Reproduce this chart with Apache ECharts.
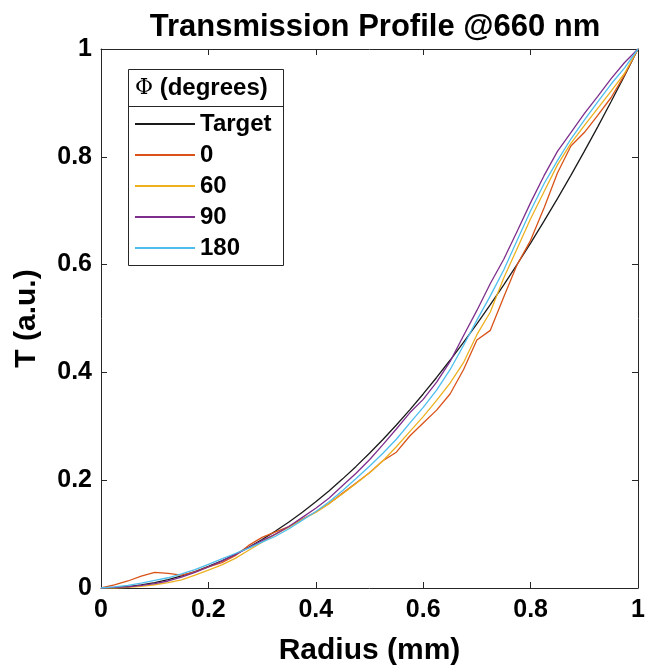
<!DOCTYPE html>
<html>
<head>
<meta charset="utf-8">
<script src="https://cdn.jsdelivr.net/npm/echarts@6/dist/echarts.min.js"></script>
<style>html,body{margin:0;padding:0;background:#fff;}#c{width:645px;height:668px;}</style>
</head>
<body>
<div id="c"></div>
<script>
const radius = [0,0.025,0.05,0.075,0.1,0.125,0.15,0.175,0.2,0.225,0.25,0.275,0.3,0.325,0.35,0.375,0.4,0.425,0.45,0.475,0.5,0.525,0.55,0.575,0.6,0.625,0.65,0.675,0.7,0.725,0.75,0.775,0.8,0.825,0.85,0.875,0.9,0.925,0.95,0.975,1];
const target = [0,0.0006,0.0025,0.0056,0.01,0.0156,0.0225,0.0306,0.04,0.0506,0.0625,0.0756,0.09,0.1056,0.1225,0.1406,0.16,0.1806,0.2025,0.2256,0.25,0.2756,0.3025,0.3306,0.36,0.3906,0.4225,0.4556,0.49,0.5256,0.5625,0.6006,0.64,0.6806,0.7225,0.7656,0.81,0.8556,0.9025,0.9506,1];
const phi0 = [0,0.006,0.013,0.022,0.029,0.027,0.024,0.030,0.039,0.047,0.060,0.079,0.094,0.104,0.114,0.128,0.141,0.157,0.176,0.195,0.214,0.236,0.252,0.282,0.306,0.330,0.360,0.405,0.460,0.478,0.540,0.600,0.645,0.705,0.770,0.820,0.845,0.877,0.910,0.952,1];
const phi60 = [0,0.000,0.001,0.003,0.006,0.010,0.015,0.024,0.033,0.043,0.055,0.070,0.085,0.100,0.113,0.127,0.140,0.157,0.175,0.194,0.214,0.236,0.262,0.290,0.318,0.348,0.380,0.418,0.470,0.512,0.575,0.630,0.685,0.735,0.785,0.825,0.858,0.890,0.922,0.955,1];
const phi90 = [0,0.001,0.002,0.005,0.008,0.013,0.020,0.029,0.039,0.050,0.062,0.075,0.088,0.100,0.114,0.131,0.148,0.167,0.190,0.213,0.238,0.266,0.295,0.325,0.350,0.382,0.420,0.468,0.515,0.565,0.610,0.662,0.715,0.765,0.810,0.845,0.880,0.912,0.945,0.975,1];
const phi180 = [0,0.002,0.005,0.009,0.014,0.019,0.026,0.034,0.044,0.054,0.064,0.074,0.085,0.096,0.110,0.126,0.142,0.160,0.181,0.203,0.226,0.250,0.276,0.306,0.335,0.367,0.405,0.450,0.497,0.542,0.590,0.645,0.700,0.750,0.793,0.833,0.868,0.902,0.935,0.965,1];
const seriesNames = ['Target','0','60','90','180'];
const seriesColors = ['#1a1a1a','#D95319','#EDB120','#7E2F8E','#4DBEEE'];
const seriesValues = [target, phi0, phi60, phi90, phi180];
const axisTicks = [0,0.2,0.4,0.6,0.8,1];

const FONT = '"Liberation Sans", Arial, Helvetica, sans-serif';
const AX = '#262626';
const chart = echarts.init(document.getElementById('c'), null, {renderer:'canvas'});

function xAx(pos, show){
  return {type:'value', position:pos, min:0, max:1, interval:0.2,
    axisLine:{show:true, onZero:false, lineStyle:{color:AX, width:1}},
    axisTick:{show:true, inside:true, length:6, lineStyle:{color:AX}},
    axisLabel:{show:show, color:'#000', fontFamily:FONT, fontWeight:'bold', fontSize:25, margin:10},
    splitLine:{show:false},
    name: show ? 'Radius (mm)' : '', nameLocation:'middle', nameGap:48,
    nameTextStyle:{color:'#000', fontFamily:FONT, fontWeight:'bold', fontSize:30}};
}
function yAx(pos, show){
  return {type:'value', position:pos, min:0, max:1, interval:0.2,
    axisLine:{show:true, onZero:false, lineStyle:{color:AX, width:1}},
    axisTick:{show:true, inside:true, length:6, lineStyle:{color:AX}},
    axisLabel:{show:show, color:'#000', fontFamily:FONT, fontWeight:'bold', fontSize:25, margin:9},
    splitLine:{show:false},
    name: show ? 'T (a.u.)' : '', nameLocation:'middle', nameGap:59,
    nameTextStyle:{color:'#000', fontFamily:FONT, fontWeight:'bold', fontSize:30}};
}

const series = seriesNames.map((n,i)=>({
  name:n, type:'line', xAxisIndex:0, yAxisIndex:0,
  data: radius.map((r,k)=>[r, seriesValues[i][k]]),
  symbol:'none', smooth:false,
  lineStyle:{color:seriesColors[i], width:1.3},
  itemStyle:{color:seriesColors[i]},
  z: 2+i
}));

chart.setOption({
  backgroundColor:'#fff',
  animation:false,
  title:{text:'Transmission Profile @660 nm', left:370, textAlign:'center', top:7,
    textStyle:{color:'#000', fontFamily:FONT, fontWeight:'bold', fontSize:31}},
  grid:{left:101, right:7, top:49, bottom:80, containLabel:false, outerBoundsMode:'none'},
  xAxis:[xAx('bottom', true), xAx('top', false)],
  yAxis:[yAx('left', true), yAx('right', false)],
  legend:{orient:'vertical', left:135, top:112, padding:0, itemWidth:60, itemHeight:2, itemGap:7,
    icon:'rect', z:10,
    data: seriesNames,
    textStyle:{color:'#000', fontFamily:FONT, fontWeight:'bold', fontSize:24, lineHeight:24}},
  graphic:[
    {type:'rect', z:3, shape:{x:128.5, y:69.5, width:155, height:196},
      style:{fill:'#fff', stroke:AX, lineWidth:1}},
    {type:'line', z:4, shape:{x1:128.5, y1:106.5, x2:283.5, y2:106.5},
      style:{stroke:AX, lineWidth:1}},
    {type:'text', z:11, x:135, y:88,
      style:{text:'{p|Φ}  {b|(degrees)}', verticalAlign:'middle',
        rich:{p:{fontFamily:'"DejaVu Serif", "Liberation Serif", serif', fontSize:22, fill:'#000'},
              b:{fontFamily:FONT, fontWeight:'bold', fontSize:24, fill:'#000'}}}}
  ],
  series: series
});
</script>
</body>
</html>
